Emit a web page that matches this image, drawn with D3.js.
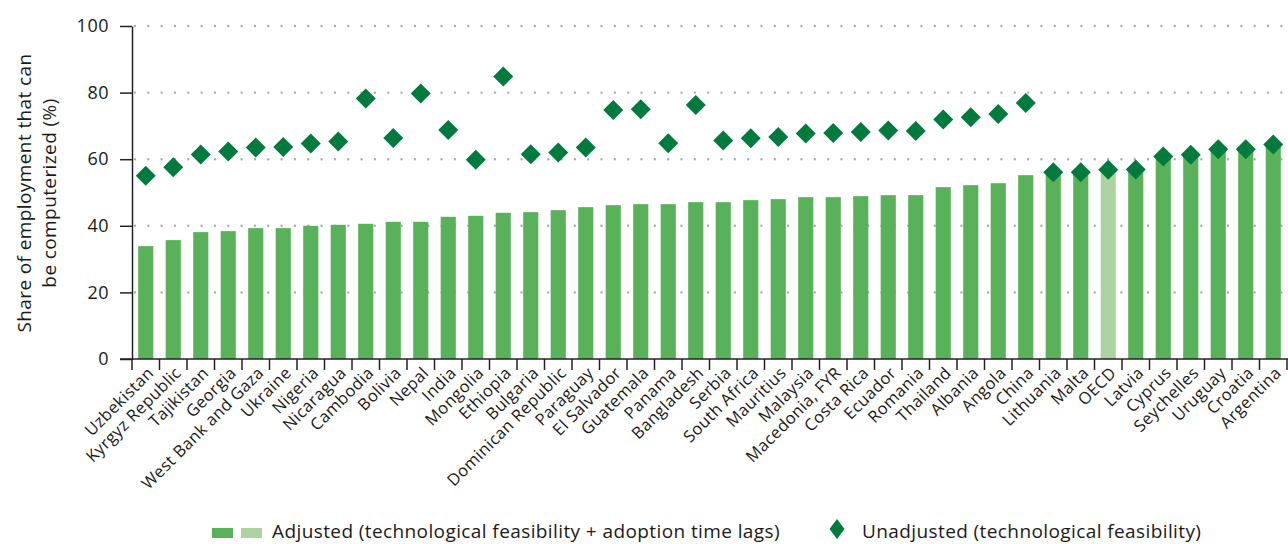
<!DOCTYPE html>
<html>
<head>
<meta charset="utf-8">
<script src="https://cdn.jsdelivr.net/npm/d3@7"></script>
<style>
  body { margin: 0; background: #fff; }
  text { font-family: "Open Sans", Lato, sans-serif; fill: #1a1a1a; }
</style>
</head>
<body>
<div id="chart"></div>
<script>
// data
var countries = ["Uzbekistan", "Kyrgyz Republic", "Tajikistan", "Georgia", "West Bank and Gaza",
  "Ukraine", "Nigeria", "Nicaragua", "Cambodia", "Bolivia", "Nepal", "India", "Mongolia",
  "Ethiopia", "Bulgaria", "Dominican Republic", "Paraguay", "El Salvador", "Guatemala", "Panama",
  "Bangladesh", "Serbia", "South Africa", "Mauritius", "Malaysia", "Macedonia, FYR", "Costa Rica",
  "Ecuador", "Romania", "Thailand", "Albania", "Angola", "China", "Lithuania", "Malta", "OECD",
  "Latvia", "Cyprus", "Seychelles", "Uruguay", "Croatia", "Argentina"];
var adjusted = [33.9, 35.7, 38.1, 38.4, 39.3, 39.3, 40.0, 40.3, 40.6, 41.2, 41.2, 42.7, 43.0,
  43.9, 44.1, 44.7, 45.6, 46.2, 46.5, 46.5, 47.1, 47.1, 47.7, 48.0, 48.6, 48.6, 48.9,
  49.2, 49.2, 51.6, 52.2, 52.8, 55.2, 56.0, 56.0, 56.7, 56.8, 60.7, 61.2, 62.9, 62.9, 64.3];
var unadjusted = [55.0, 57.6, 61.4, 62.3, 63.5, 63.7, 64.7, 65.3, 78.2, 66.4, 79.7, 68.8, 59.8,
  84.8, 61.5, 62.0, 63.5, 74.8, 75.0, 64.8, 76.3, 65.6, 66.3, 66.7, 67.7, 67.9, 68.2,
  68.6, 68.5, 71.9, 72.6, 73.6, 76.9, 56.1, 56.1, 56.8, 56.9, 60.8, 61.3, 63.0, 63.0, 64.4];
var yTicks = [0, 20, 40, 60, 80, 100];
var highlight = "OECD";
var legendLabels = ["Adjusted (technological feasibility + adoption time lags)",
  "Unadjusted (technological feasibility)"];

var width = 1288, height = 544;
var plotLeft = 132, plotRight = 1287, plotTop = 26, plotBottom = 359;

var svg = d3.select("#chart").append("svg")
  .attr("width", width)
  .attr("height", height);

var x = d3.scaleBand()
  .domain(countries)
  .range([plotLeft, plotRight])
  .paddingInner(0.45)
  .paddingOuter(0.225);

var y = d3.scaleLinear()
  .domain([0, 100])
  .range([plotBottom, plotTop]);

// dotted gridlines
svg.append("g")
  .selectAll("line")
  .data(yTicks.filter(function(d) { return d > 0; }))
  .enter().append("line")
  .attr("x1", plotLeft + 3)
  .attr("x2", plotRight)
  .attr("y1", function(d) { return y(d); })
  .attr("y2", function(d) { return y(d); })
  .attr("stroke", "#aaaaaa")
  .attr("stroke-width", 2.4)
  .attr("stroke-linecap", "round")
  .attr("stroke-dasharray", "0,13.33");

// bars
svg.append("g")
  .selectAll("rect")
  .data(countries)
  .enter().append("rect")
  .attr("x", function(d) { return x(d); })
  .attr("width", x.bandwidth())
  .attr("y", function(d, i) { return y(adjusted[i]); })
  .attr("height", function(d, i) { return y(0) - y(adjusted[i]); })
  .attr("fill", function(d) { return d === highlight ? "#aed3a2" : "#59b25a"; });

// y axis
var yAxis = svg.append("g")
  .attr("transform", "translate(" + plotLeft + ",0)")
  .call(d3.axisLeft(y).tickValues(yTicks).tickSize(12).tickPadding(11).tickSizeOuter(0));
yAxis.select(".domain").attr("stroke", "#222").attr("stroke-width", 1.5);
yAxis.selectAll(".tick line").attr("stroke", "#222").attr("stroke-width", 1.5);
yAxis.selectAll(".tick text")
  .style("font-size", "18px")
  .style("letter-spacing", "0.5px")
  .attr("fill", "#1a1a1a");

// x axis: labels under bar centres, ticks at band edges
var xAxis = svg.append("g")
  .attr("transform", "translate(0," + plotBottom + ")")
  .call(d3.axisBottom(x).tickSize(0).tickSizeOuter(0));
xAxis.select(".domain").remove();
xAxis.selectAll(".tick text")
  .style("font-size", "16.5px")
  .style("letter-spacing", "0.4px")
  .attr("text-anchor", "end")
  .attr("transform", "translate(9,15) rotate(-45)")
  .attr("dy", "0")
  .attr("y", 0)
  .attr("fill", "#1a1a1a");

svg.append("line")
  .attr("x1", plotLeft - 12).attr("x2", plotRight + 2)
  .attr("y1", plotBottom).attr("y2", plotBottom)
  .attr("stroke", "#222").attr("stroke-width", 1.5);

var edges = countries.map(function(d) { return x(d) - (x.step() - x.bandwidth()) / 2; });
edges.push(edges[edges.length - 1] + x.step());
svg.append("g")
  .selectAll("line")
  .data(edges)
  .enter().append("line")
  .attr("x1", function(d) { return d; })
  .attr("x2", function(d) { return d; })
  .attr("y1", plotBottom)
  .attr("y2", plotBottom + 11)
  .attr("stroke", "#222")
  .attr("stroke-width", 1.5);

// diamonds
var diamond = d3.symbol().type(d3.symbolSquare).size(200);
svg.append("g")
  .selectAll("path")
  .data(countries)
  .enter().append("path")
  .attr("d", diamond)
  .attr("transform", function(d, i) {
    return "translate(" + (x(d) + x.bandwidth() / 2) + "," + y(unadjusted[i]) + ") rotate(45)";
  })
  .attr("fill", "#007a3d");

// y title
var yTitle = svg.append("text")
  .attr("transform", "translate(33,193) rotate(-90)")
  .attr("text-anchor", "middle")
  .style("font-size", "19px")
  .style("letter-spacing", "0.4px");
yTitle.append("tspan").attr("x", 0).attr("dy", "-0.1em").text("Share of employment that can");
yTitle.append("tspan").attr("x", 0).attr("dy", "1.3em").text("be computerized (%)");

// legend
var legend = svg.append("g");
legend.append("rect").attr("x", 212).attr("y", 528).attr("width", 21).attr("height", 10).attr("fill", "#59b25a");
legend.append("rect").attr("x", 241).attr("y", 528).attr("width", 21).attr("height", 10).attr("fill", "#aed3a2");
legend.append("text").attr("x", 272).attr("y", 538)
  .style("font-size", "19px").style("letter-spacing", "0.4px").text(legendLabels[0]);
legend.append("path")
  .attr("d", "M0,-10L7.5,0L0,10L-7.5,0Z")
  .attr("transform", "translate(837,529)")
  .attr("fill", "#007a3d");
legend.append("text").attr("x", 862).attr("y", 538)
  .style("font-size", "19px").style("letter-spacing", "0.4px").text(legendLabels[1]);
</script>
</body>
</html>
